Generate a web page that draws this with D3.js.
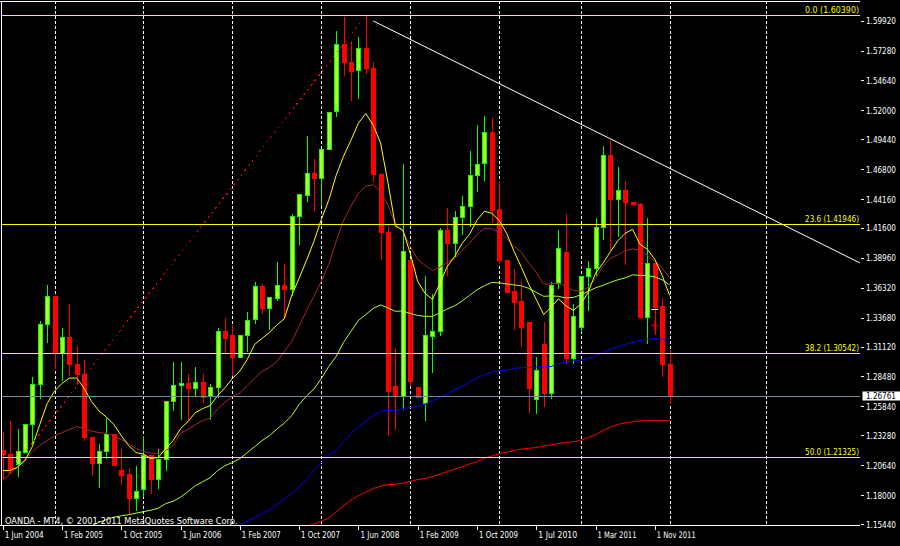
<!DOCTYPE html>
<html>
<head>
<meta charset="utf-8">
<script src="https://cdn.jsdelivr.net/npm/d3@7"></script>
<style>
  body { margin: 0; background: #000; }
  svg { display: block; }
  text { font-family: "DejaVu Sans", Verdana, sans-serif; font-size: 9px; }
</style>
</head>
<body>
<div id="chart"></div>
<script>
// EURUSD monthly bars, bar 0 = Jun 2004
var opens = [1.2195,1.2158,1.2070,1.2180,1.2420,1.2775,1.3305,1.3555,1.3050,1.3190,
  1.2950,1.2865,1.2310,1.2080,1.2185,1.2335,1.2015,1.1980,1.1772,1.1845,
  1.2150,1.1933,1.2115,1.2625,1.2765,1.2785,1.2745,1.2793,1.2673,1.2754,
  1.3242,1.3206,1.3017,1.3210,1.3355,1.3646,1.3446,1.3540,1.3652,1.3616,
  1.4260,1.4450,1.4640,1.4594,1.4858,1.5190,1.5778,1.5627,1.5550,1.5747,
  1.5567,1.4633,1.4117,1.2761,1.2673,1.3870,1.2750,1.2605,1.3205,1.3242,
  1.4140,1.4026,1.4255,1.4349,1.4625,1.4730,1.5002,1.4325,1.3874,1.3600,
  1.3512,1.3328,1.2645,1.3131,1.2695,1.3668,1.3942,1.3004,1.3284,1.3727,
  1.3800,1.4164,1.4804,1.4414,1.4494,1.4385,1.4367,1.3372,1.3845,1.3467,
  1.2950];
var highs = [1.2355,1.2458,1.2385,1.2425,1.2840,1.3335,1.3660,1.3560,1.3280,1.3485,
  1.3120,1.2995,1.2315,1.2250,1.2485,1.2340,1.2207,1.2040,1.2060,1.2325,
  1.2157,1.2207,1.2630,1.2972,1.2978,1.2870,1.2934,1.2869,1.2778,1.3272,
  1.3362,1.3302,1.3210,1.3422,1.3682,1.3667,1.3545,1.3856,1.3840,1.4283,
  1.4456,1.4970,1.4768,1.4860,1.5185,1.5900,1.6025,1.5816,1.5846,1.6039,
  1.5627,1.4645,1.4176,1.3101,1.4724,1.3875,1.2752,1.3736,1.3580,1.4164,
  1.4334,1.4308,1.4442,1.4844,1.5068,1.5148,1.5136,1.4579,1.3880,1.3795,
  1.3694,1.3330,1.3024,1.3328,1.3682,1.4146,1.4281,1.3491,1.3740,1.3866,
  1.4249,1.4883,1.4936,1.4700,1.4573,1.4385,1.4381,1.4249,1.3845,1.3545,
  1.3083];
var lows = [1.1945,1.1986,1.1960,1.2175,1.2250,1.2650,1.3140,1.2915,1.2810,1.2850,
  1.2770,1.2280,1.1970,1.1860,1.2120,1.2055,1.1890,1.1626,1.1660,1.1780,
  1.1810,1.1854,1.2016,1.2545,1.2465,1.2465,1.2673,1.2613,1.2464,1.2658,
  1.3048,1.2853,1.3010,1.3062,1.3308,1.3398,1.3257,1.3517,1.3362,1.3556,
  1.4014,1.4394,1.4314,1.4355,1.4855,1.5142,1.5502,1.5284,1.5302,1.5522,
  1.4568,1.3877,1.2323,1.2375,1.2548,1.2763,1.2655,1.2450,1.2880,1.3203,
  1.3736,1.3903,1.4100,1.4170,1.4478,1.4574,1.4200,1.3840,1.3590,1.3261,
  1.3107,1.2523,1.2517,1.2576,1.2645,1.3624,1.2960,1.2960,1.3240,1.3426,
  1.3733,1.4051,1.3963,1.4080,1.3830,1.4367,1.3358,1.3137,1.3210,1.2847,
  1.2605];
var closes = [1.2160,1.2022,1.2185,1.2420,1.2775,1.3305,1.3555,1.3050,1.3190,1.2950,
  1.2865,1.2310,1.2080,1.2185,1.2335,1.2060,1.1972,1.1772,1.1830,1.2148,
  1.1933,1.2110,1.2626,1.2765,1.2785,1.2745,1.2793,1.2658,1.2754,1.3242,
  1.3183,1.3017,1.3206,1.3346,1.3646,1.3446,1.3542,1.3652,1.3616,1.4260,
  1.4454,1.4640,1.4594,1.4858,1.5181,1.5778,1.5627,1.5547,1.5747,1.5567,
  1.4633,1.4117,1.2712,1.2667,1.3951,1.2805,1.2660,1.3210,1.3242,1.4134,
  1.4026,1.4251,1.4349,1.4625,1.4724,1.5002,1.4319,1.3870,1.3594,1.3505,
  1.3284,1.2744,1.2901,1.2695,1.3653,1.3978,1.3004,1.3379,1.3733,1.3800,
  1.4164,1.4804,1.4414,1.4494,1.4381,1.4367,1.3372,1.3845,1.3461,1.2950,
  1.2676];

// moving averages as drawn on the chart
var maYellow = [1.2016,1.2016,1.2047,1.2104,1.2228,1.2423,1.2609,1.2719,1.2786,1.2834,
  1.2834,1.2741,1.2626,1.2542,1.2489,1.2423,1.2325,1.2237,1.2175,1.2162,
  1.2122,1.2133,1.2210,1.2281,1.2387,1.2449,1.2529,1.2564,1.2591,1.2679,
  1.2750,1.2830,1.2896,1.2998,1.3131,1.3184,1.3237,1.3303,1.3357,1.3564,
  1.3715,1.3874,1.4042,1.4237,1.4405,1.4626,1.4795,1.4936,1.5087,1.5171,
  1.5069,1.4910,1.4556,1.4175,1.4144,1.3936,1.3688,1.3582,1.3529,1.3671,
  1.3821,1.3910,1.4025,1.4104,1.4228,1.4308,1.4290,1.4228,1.4113,1.3954,
  1.3812,1.3662,1.3529,1.3396,1.3458,1.3534,1.3472,1.3432,1.3485,1.3591,
  1.3759,1.3848,1.3949,1.4047,1.4113,1.4149,1.4016,1.3972,1.3883,1.3741,
  1.3564];
var maBrown = [1.1927,1.1989,1.2051,1.2113,1.2184,1.2237,1.2281,1.2325,1.2352,1.2379,
  1.2405,1.2387,1.2365,1.2352,1.2343,1.2325,1.2290,1.2255,1.2210,1.2184,
  1.2171,1.2166,1.2193,1.2237,1.2348,1.2379,1.2423,1.2458,1.2480,1.2560,
  1.2622,1.2671,1.2702,1.2768,1.2834,1.2892,1.2927,1.2980,1.3069,1.3157,
  1.3290,1.3432,1.3556,1.3688,1.3839,1.4042,1.4228,1.4352,1.4467,1.4529,
  1.4542,1.4480,1.4361,1.4193,1.4131,1.3998,1.3883,1.3830,1.3786,1.3812,
  1.3857,1.3892,1.3963,1.4025,1.4104,1.4157,1.4153,1.4126,1.4069,1.3998,
  1.3945,1.3848,1.3768,1.3662,1.3668,1.3675,1.3640,1.3609,1.3600,1.3635,
  1.3715,1.3821,1.3892,1.3923,1.3958,1.3976,1.3963,1.3918,1.3865,1.3808,
  1.3719];
var maGreenStart = 12;
var maGreen = [1.1529,1.1560,1.1582,1.1604,1.1617,1.1626,1.1640,1.1653,1.1666,1.1684,
  1.1724,1.1746,1.1781,1.1830,1.1883,1.1918,1.1954,1.2016,1.2060,1.2087,
  1.2122,1.2175,1.2228,1.2281,1.2325,1.2383,1.2436,1.2502,1.2600,1.2675,
  1.2737,1.2830,1.2936,1.3025,1.3149,1.3246,1.3343,1.3396,1.3449,1.3480,
  1.3454,1.3423,1.3427,1.3405,1.3387,1.3379,1.3379,1.3410,1.3445,1.3472,
  1.3516,1.3564,1.3613,1.3649,1.3679,1.3675,1.3666,1.3657,1.3649,1.3626,
  1.3591,1.3556,1.3560,1.3556,1.3542,1.3547,1.3569,1.3600,1.3631,1.3653,
  1.3679,1.3702,1.3719,1.3746,1.3741,1.3741,1.3728,1.3702,1.3657];
var maBlueStart = 31;
var maBlue = [1.1520,1.1533,1.1569,1.1600,1.1635,1.1671,1.1715,1.1763,1.1812,1.1874,
  1.1940,1.2020,1.2087,1.2157,1.2193,1.2272,1.2343,1.2405,1.2454,1.2502,
  1.2542,1.2547,1.2548,1.2564,1.2573,1.2582,1.2604,1.2635,1.2662,1.2693,
  1.2733,1.2763,1.2799,1.2834,1.2865,1.2887,1.2896,1.2905,1.2918,1.2925,
  1.2927,1.2930,1.2933,1.2936,1.2963,1.2973,1.2985,1.2994,1.3007,1.3029,
  1.3060,1.3087,1.3110,1.3131,1.3149,1.3166,1.3177,1.3181,1.3179,1.3175];
var maRedStart = 41;
var maRed = [1.1520,1.1542,1.1569,1.1595,1.1653,1.1706,1.1755,1.1794,1.1825,1.1856,
  1.1879,1.1892,1.1895,1.1905,1.1921,1.1936,1.1947,1.1963,1.1985,1.2007,
  1.2029,1.2051,1.2073,1.2095,1.2126,1.2144,1.2166,1.2179,1.2193,1.2206,
  1.2213,1.2219,1.2233,1.2243,1.2255,1.2265,1.2272,1.2281,1.2308,1.2334,
  1.2370,1.2401,1.2423,1.2438,1.2449,1.2454,1.2458,1.2458,1.2458,1.2458];

var priceTicks = [1.59920,1.57280,1.54640,1.52000,1.49440,1.46800,1.44160,1.41600,1.38960,
  1.36320,1.33680,1.31120,1.28480,1.25840,1.23280,1.20640,1.18000,1.15440];
var dateLabels = ["1 Jun 2004","1 Feb 2005","1 Oct 2005","1 Jun 2006","1 Feb 2007","1 Oct 2007",
  "1 Jun 2008","1 Feb 2009","1 Oct 2009","1 Jul 2010","1 Mar 2011","1 Nov 2011"];
var dateBars = [0,8,16,24,32,40,48,56,64,72,80,88];
var gridBars = [7,19,31,43,55,67,78,90,103];

var fibLevels = ["0.0","23.6","38.2","50.0"];
var fibPrices = [1.60390,1.41946,1.30542,1.21325];
var fibAnchorBars = [-44,49];
var fibAnchorPrices = [0.82250,1.60390];

var trendBars = [50,82];
var trendPrices = [1.5990,1.4948];

var lastPrice = 1.26761;
var markBar = 88, markWhite = 1.3440, markRed = 1.3300;

var width = 900, height = 546,
  plotLeft = 1.5, plotTop = 1, plotRight = 860, plotBottom = 525;

var x = d3.scaleLinear().domain([0, 88]).range([2.7, 654.8]);
var y = d3.scaleLinear().domain([1.15440, 1.59920]).range([524, 20.7]);

var svg = d3.select("#chart").append("svg")
  .attr("width", width)
  .attr("height", height)
  .style("background", "#000");

svg.append("clipPath").attr("id", "plot")
  .append("rect")
  .attr("x", plotLeft).attr("y", plotTop)
  .attr("width", plotRight - plotLeft).attr("height", plotBottom - plotTop);

var g = svg.append("g").attr("clip-path", "url(#plot)");

// squeeze a text horizontally so it is as wide as the terminal's pixel font
function squeeze(sel, px, py, w) {
  sel.each(function(d, i) {
    var node = this,
      k = w / node.getComputedTextLength(),
      tx = typeof px === "function" ? px(d, i) : px,
      ty = typeof py === "function" ? py(d, i) : py;
    d3.select(node).attr("transform", "translate(" + tx + "," + ty + ") scale(" + k + ",1)");
  });
}

// vertical grid (behind the bars)
g.selectAll(".grid").data(gridBars).enter().append("line")
  .attr("x1", function(d) { return Math.round(x(d)) + 0.5; })
  .attr("x2", function(d) { return Math.round(x(d)) + 0.5; })
  .attr("y1", plotTop).attr("y2", plotBottom)
  .attr("stroke", "#fff")
  .attr("stroke-dasharray", "3,2")
  .attr("shape-rendering", "crispEdges");

// candles
var bars = d3.range(opens.length).map(function(i) {
  return {i: i, o: opens[i], h: highs[i], l: lows[i], c: closes[i]};
});

var candle = g.selectAll(".candle").data(bars).enter().append("g")
  .attr("class", "candle")
  .attr("shape-rendering", "crispEdges");

candle.append("line")
  .attr("x1", function(d) { return Math.round(x(d.i)) + 0.5; })
  .attr("x2", function(d) { return Math.round(x(d.i)) + 0.5; })
  .attr("y1", function(d) { return y(d.h); })
  .attr("y2", function(d) { return y(d.l); })
  .attr("stroke", function(d) { return d.c >= d.o ? "#00ff00" : "#ff0000"; });

candle.append("rect")
  .attr("x", function(d) { return Math.round(x(d.i)) - 1.5; })
  .attr("width", 4)
  .attr("y", function(d) { return y(Math.max(d.o, d.c)); })
  .attr("height", function(d) { return Math.max(1, Math.abs(y(d.o) - y(d.c))); })
  .attr("fill", function(d) { return d.c >= d.o ? "#adff2f" : "#ff0000"; })
  .attr("stroke", function(d) { return d.c >= d.o ? "#00ff00" : "#ff0000"; });

// moving averages
function maLine(values, start, color) {
  var line = d3.line()
    .x(function(d, i) { return x(start + i); })
    .y(function(d) { return y(d); });
  g.append("path")
    .datum(values)
    .attr("d", line)
    .attr("fill", "none")
    .attr("stroke", color)
    .attr("stroke-width", 1);
}
maLine(maRed, maRedStart, "#ff0000");
maLine(maBlue, maBlueStart, "#0000ff");
maLine(maGreen, maGreenStart, "#adff2f");
maLine(maBrown, 0, "#a52a2a");
maLine(maYellow, 0, "#ffff00");

// fibonacci trend line and levels
g.append("line")
  .attr("x1", x(fibAnchorBars[0])).attr("y1", y(fibAnchorPrices[0]))
  .attr("x2", x(fibAnchorBars[1])).attr("y2", y(fibAnchorPrices[1]))
  .attr("stroke", "#ff0000")
  .attr("stroke-dasharray", "2,4")
  .attr("shape-rendering", "crispEdges");

g.selectAll(".fib").data(fibPrices).enter().append("line")
  .attr("x1", plotLeft).attr("x2", plotRight)
  .attr("y1", function(d) { return Math.round(y(d)) + 0.5; })
  .attr("y2", function(d) { return Math.round(y(d)) + 0.5; })
  .attr("stroke", "#ffff00")
  .attr("shape-rendering", "crispEdges");

svg.selectAll(".fibLabel").data(fibPrices).enter().append("text")
  .attr("class", "fibLabel")
  .attr("text-anchor", "end")
  .attr("fill", "#ffff00")
  .text(function(d, i) { return fibLevels[i] + " (" + d.toFixed(5) + ")"; })
  .call(squeeze, 859, function(d) { return Math.round(y(d)) - 2; }, 54);

// trend line from the 2008 high, extended to the right edge
var slope = (trendPrices[1] - trendPrices[0]) / (trendBars[1] - trendBars[0]);
var endBar = x.invert(plotRight);
g.append("line")
  .attr("x1", x(trendBars[0])).attr("y1", y(trendPrices[0]))
  .attr("x2", plotRight).attr("y2", y(trendPrices[0] + slope * (endBar - trendBars[0])))
  .attr("stroke", "#fff");

// current price line
g.append("line")
  .attr("x1", plotLeft).attr("x2", plotRight)
  .attr("y1", Math.round(y(lastPrice)) + 0.5).attr("y2", Math.round(y(lastPrice)) + 0.5)
  .attr("stroke", "#778899")
  .attr("shape-rendering", "crispEdges");

// small markers on the Nov 2011 bar
g.append("line")
  .attr("x1", x(markBar) - 3.5).attr("x2", x(markBar) + 3.5)
  .attr("y1", y(markWhite)).attr("y2", y(markWhite))
  .attr("stroke", "#fff");
g.append("line")
  .attr("x1", x(markBar) - 3.5).attr("x2", x(markBar) + 3.5)
  .attr("y1", y(markRed)).attr("y2", y(markRed))
  .attr("stroke", "#ff0000");
g.append("line")
  .attr("x1", x(markBar)).attr("x2", x(markBar))
  .attr("y1", y(markRed) - 5).attr("y2", y(markRed) + 5)
  .attr("stroke", "#ff0000");

// frame
var frame = svg.append("g").attr("shape-rendering", "crispEdges").attr("stroke", "#fff");
frame.append("line").attr("x1", 0).attr("x2", plotRight).attr("y1", 1.5).attr("y2", 1.5);
frame.append("line").attr("x1", 1.5).attr("x2", 1.5).attr("y1", 1).attr("y2", plotBottom);
frame.append("line").attr("x1", 0).attr("x2", plotRight).attr("y1", plotBottom + 0.5).attr("y2", plotBottom + 0.5);

// price axis
var pa = svg.append("g");
pa.selectAll("line").data(priceTicks).enter().append("line")
  .attr("x1", 861).attr("x2", 864)
  .attr("y1", function(d) { return Math.round(y(d)) + 0.5; })
  .attr("y2", function(d) { return Math.round(y(d)) + 0.5; })
  .attr("stroke", "#fff")
  .attr("shape-rendering", "crispEdges");
pa.selectAll("text").data(priceTicks).enter().append("text")
  .attr("fill", "#fff")
  .text(function(d) { return d.toFixed(5); })
  .call(squeeze, 866, function(d) { return y(d) + 3.5; }, 30);

// current price tag
svg.append("rect")
  .attr("x", 862.5).attr("y", Math.round(y(lastPrice)) - 4.5)
  .attr("width", 37.5).attr("height", 9)
  .attr("fill", "#fff");
svg.append("text")
  .attr("fill", "#000")
  .text(lastPrice.toFixed(5))
  .call(squeeze, 866, y(lastPrice) + 3.5, 30);

// time axis
var ta = svg.append("g");
ta.selectAll("line").data(dateBars).enter().append("line")
  .attr("x1", function(d) { return Math.round(x(d)) + 0.5; })
  .attr("x2", function(d) { return Math.round(x(d)) + 0.5; })
  .attr("y1", plotBottom).attr("y2", plotBottom + 5)
  .attr("stroke", "#fff")
  .attr("shape-rendering", "crispEdges");
ta.selectAll("text").data(dateBars).enter().append("text")
  .attr("fill", "#fff")
  .text(function(d, i) { return dateLabels[i]; })
  .call(squeeze, function(d) { return x(d) + 2; }, 538, 39);

// broker caption
svg.append("text")
  .attr("fill", "#fff")
  .text("OANDA - MT4, \u00a9 2001-2011 MetaQuotes Software Corp.")
  .call(squeeze, 5, 524, 233);
</script>
</body>
</html>
